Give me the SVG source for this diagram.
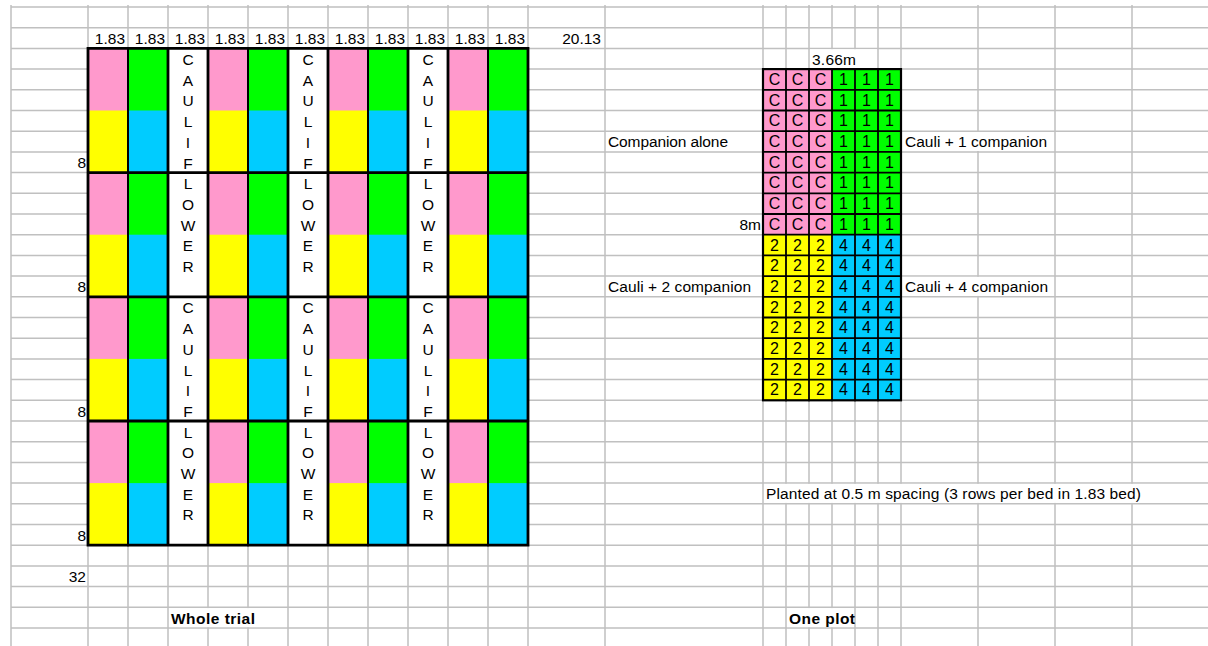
<svg xmlns="http://www.w3.org/2000/svg" width="1208" height="646" viewBox="0 0 1208 646">
<style>
.g{stroke:#c0c0c0;stroke-width:1.5;fill:none}
.t{font-family:"Liberation Sans",Arial,sans-serif;font-size:15.5px;fill:#000}
.p{font-size:16px}
.m{text-anchor:middle}
.e{text-anchor:end}
.b{font-weight:bold}
.pk{fill:#ff99cc}.gr{fill:#00ff00}.ye{fill:#ffff00}.bl{fill:#00ccff}.wh{fill:#fff}
.k{stroke:#000;fill:none;stroke-linecap:square}
</style>
<rect width="1208" height="646" fill="#fff"/>
<g id="gridlines">
<path class="g" d="M11 5V646M88 5V646M128 5V646M168 5V646M208 5V646M248 5V646M288 5V646M328 5V646M368 5V646M408 5V646M448 5V646M488 5V646M528 5V646M605 5V646M763 5V646M786 5V646M809 5V646M832 5V646M855 5V646M878 5V646M901 5V646M978 5V646M1055 5V646M1132 5V646"/>
<path class="g" d="M11 7H1208M11 27.7H1208M11 48.4H1208M11 69.1H1208M11 89.8H1208M11 110.5H1208M11 131.2H1208M11 151.9H1208M11 172.6H1208M11 193.3H1208M11 214H1208M11 234.7H1208M11 255.4H1208M11 276.1H1208M11 296.8H1208M11 317.5H1208M11 338.2H1208M11 358.9H1208M11 379.6H1208M11 400.3H1208M11 421H1208M11 441.7H1208M11 462.4H1208M11 483.1H1208M11 503.8H1208M11 524.5H1208M11 545.2H1208M11 565.9H1208M11 586.6H1208M11 607.3H1208M11 628H1208"/>
<g class="wh">
<rect x="810" y="49.2" width="67" height="19"/>
<rect x="902" y="132" width="152" height="19"/>
<rect x="902" y="276.9" width="152" height="19"/>
<rect x="764" y="483.9" width="444" height="19"/>
<rect x="169" y="608.1" width="118" height="19"/>
<rect x="787" y="608.1" width="67" height="19"/>
</g>
</g>
<g id="whole-trial">
<g class="ye">
<rect x="88" y="48.4" width="40" height="496.8"/><rect x="208" y="48.4" width="40" height="496.8"/><rect x="328" y="48.4" width="40" height="496.8"/><rect x="448" y="48.4" width="40" height="496.8"/>
</g>
<g class="bl">
<rect x="128" y="48.4" width="40" height="496.8"/><rect x="248" y="48.4" width="40" height="496.8"/><rect x="368" y="48.4" width="40" height="496.8"/><rect x="488" y="48.4" width="40" height="496.8"/>
</g>
<g class="wh">
<rect x="168" y="48.4" width="40" height="496.8"/><rect x="288" y="48.4" width="40" height="496.8"/><rect x="408" y="48.4" width="40" height="496.8"/>
</g>
<g class="pk">
<rect x="88" y="48.4" width="40" height="62.1"/><rect x="88" y="172.6" width="40" height="62.1"/><rect x="88" y="296.8" width="40" height="62.1"/><rect x="88" y="421" width="40" height="62.1"/>
<rect x="208" y="48.4" width="40" height="62.1"/><rect x="208" y="172.6" width="40" height="62.1"/><rect x="208" y="296.8" width="40" height="62.1"/><rect x="208" y="421" width="40" height="62.1"/>
<rect x="328" y="48.4" width="40" height="62.1"/><rect x="328" y="172.6" width="40" height="62.1"/><rect x="328" y="296.8" width="40" height="62.1"/><rect x="328" y="421" width="40" height="62.1"/>
<rect x="448" y="48.4" width="40" height="62.1"/><rect x="448" y="172.6" width="40" height="62.1"/><rect x="448" y="296.8" width="40" height="62.1"/><rect x="448" y="421" width="40" height="62.1"/>
</g>
<g class="gr">
<rect x="128" y="48.4" width="40" height="62.1"/><rect x="128" y="172.6" width="40" height="62.1"/><rect x="128" y="296.8" width="40" height="62.1"/><rect x="128" y="421" width="40" height="62.1"/>
<rect x="248" y="48.4" width="40" height="62.1"/><rect x="248" y="172.6" width="40" height="62.1"/><rect x="248" y="296.8" width="40" height="62.1"/><rect x="248" y="421" width="40" height="62.1"/>
<rect x="368" y="48.4" width="40" height="62.1"/><rect x="368" y="172.6" width="40" height="62.1"/><rect x="368" y="296.8" width="40" height="62.1"/><rect x="368" y="421" width="40" height="62.1"/>
<rect x="488" y="48.4" width="40" height="62.1"/><rect x="488" y="172.6" width="40" height="62.1"/><rect x="488" y="296.8" width="40" height="62.1"/><rect x="488" y="421" width="40" height="62.1"/>
</g>
<path class="k" stroke-width="2" d="M128 48.4V545.2M248 48.4V545.2M368 48.4V545.2M488 48.4V545.2"/>
<path class="k" stroke-width="2.8" d="M88 48.4V545.2M168 48.4V545.2M208 48.4V545.2M288 48.4V545.2M328 48.4V545.2M408 48.4V545.2M448 48.4V545.2M528 48.4V545.2M88 48.4H528M88 172.6H528M88 296.8H528M88 421H528M88 545.2H528"/>
<g class="t m">
<text x="188" y="65">C</text><text x="188" y="85.7">A</text><text x="188" y="106.4">U</text><text x="188" y="127.1">L</text><text x="188" y="147.8">I</text><text x="188" y="168.5">F</text>
<text x="188" y="189.2">L</text><text x="188" y="209.9">O</text><text x="188" y="230.6">W</text><text x="188" y="251.3">E</text><text x="188" y="272">R</text>
<text x="188" y="313.4">C</text><text x="188" y="334.1">A</text><text x="188" y="354.8">U</text><text x="188" y="375.5">L</text><text x="188" y="396.2">I</text><text x="188" y="416.9">F</text>
<text x="188" y="437.6">L</text><text x="188" y="458.3">O</text><text x="188" y="479">W</text><text x="188" y="499.7">E</text><text x="188" y="520.4">R</text>
<text x="308" y="65">C</text><text x="308" y="85.7">A</text><text x="308" y="106.4">U</text><text x="308" y="127.1">L</text><text x="308" y="147.8">I</text><text x="308" y="168.5">F</text>
<text x="308" y="189.2">L</text><text x="308" y="209.9">O</text><text x="308" y="230.6">W</text><text x="308" y="251.3">E</text><text x="308" y="272">R</text>
<text x="308" y="313.4">C</text><text x="308" y="334.1">A</text><text x="308" y="354.8">U</text><text x="308" y="375.5">L</text><text x="308" y="396.2">I</text><text x="308" y="416.9">F</text>
<text x="308" y="437.6">L</text><text x="308" y="458.3">O</text><text x="308" y="479">W</text><text x="308" y="499.7">E</text><text x="308" y="520.4">R</text>
<text x="428" y="65">C</text><text x="428" y="85.7">A</text><text x="428" y="106.4">U</text><text x="428" y="127.1">L</text><text x="428" y="147.8">I</text><text x="428" y="168.5">F</text>
<text x="428" y="189.2">L</text><text x="428" y="209.9">O</text><text x="428" y="230.6">W</text><text x="428" y="251.3">E</text><text x="428" y="272">R</text>
<text x="428" y="313.4">C</text><text x="428" y="334.1">A</text><text x="428" y="354.8">U</text><text x="428" y="375.5">L</text><text x="428" y="396.2">I</text><text x="428" y="416.9">F</text>
<text x="428" y="437.6">L</text><text x="428" y="458.3">O</text><text x="428" y="479">W</text><text x="428" y="499.7">E</text><text x="428" y="520.4">R</text>
</g>
<g class="t e">
<text x="125" y="44">1.83</text><text x="165" y="44">1.83</text><text x="205" y="44">1.83</text><text x="245" y="44">1.83</text><text x="285" y="44">1.83</text><text x="325" y="44">1.83</text><text x="365" y="44">1.83</text><text x="405" y="44">1.83</text><text x="445" y="44">1.83</text><text x="485" y="44">1.83</text><text x="525" y="44">1.83</text>
<text x="601" y="44">20.13</text>
<text x="86" y="168.1">8</text><text x="86" y="292.3">8</text><text x="86" y="416.5">8</text><text x="86" y="540.7">8</text>
<text x="86" y="582.1">32</text>
</g>
<text class="t b" x="171" y="623.5" textLength="84">Whole trial</text>
</g>
<g id="one-plot">
<rect class="pk" x="763" y="69.1" width="69" height="165.6"/>
<rect class="gr" x="832" y="69.1" width="69" height="165.6"/>
<rect class="ye" x="763" y="234.7" width="69" height="165.6"/>
<rect class="bl" x="832" y="234.7" width="69" height="165.6"/>
<path class="k" stroke-width="1.8" d="M786 69.1V400.3M809 69.1V400.3M832 69.1V400.3M855 69.1V400.3M878 69.1V400.3M763 89.8H901M763 110.5H901M763 131.2H901M763 151.9H901M763 172.6H901M763 193.3H901M763 214H901M763 234.7H901M763 255.4H901M763 276.1H901M763 296.8H901M763 317.5H901M763 338.2H901M763 358.9H901M763 379.6H901"/>
<rect class="k" stroke-width="2.2" x="763" y="69.1" width="138" height="331.2"/>
<g class="t p m">
<text x="774.5" y="84.9">C</text><text x="797.5" y="84.9">C</text><text x="820.5" y="84.9">C</text><text x="843.5" y="84.9">1</text><text x="866.5" y="84.9">1</text><text x="889.5" y="84.9">1</text>
<text x="774.5" y="105.6">C</text><text x="797.5" y="105.6">C</text><text x="820.5" y="105.6">C</text><text x="843.5" y="105.6">1</text><text x="866.5" y="105.6">1</text><text x="889.5" y="105.6">1</text>
<text x="774.5" y="126.3">C</text><text x="797.5" y="126.3">C</text><text x="820.5" y="126.3">C</text><text x="843.5" y="126.3">1</text><text x="866.5" y="126.3">1</text><text x="889.5" y="126.3">1</text>
<text x="774.5" y="147">C</text><text x="797.5" y="147">C</text><text x="820.5" y="147">C</text><text x="843.5" y="147">1</text><text x="866.5" y="147">1</text><text x="889.5" y="147">1</text>
<text x="774.5" y="167.7">C</text><text x="797.5" y="167.7">C</text><text x="820.5" y="167.7">C</text><text x="843.5" y="167.7">1</text><text x="866.5" y="167.7">1</text><text x="889.5" y="167.7">1</text>
<text x="774.5" y="188.4">C</text><text x="797.5" y="188.4">C</text><text x="820.5" y="188.4">C</text><text x="843.5" y="188.4">1</text><text x="866.5" y="188.4">1</text><text x="889.5" y="188.4">1</text>
<text x="774.5" y="209.1">C</text><text x="797.5" y="209.1">C</text><text x="820.5" y="209.1">C</text><text x="843.5" y="209.1">1</text><text x="866.5" y="209.1">1</text><text x="889.5" y="209.1">1</text>
<text x="774.5" y="229.8">C</text><text x="797.5" y="229.8">C</text><text x="820.5" y="229.8">C</text><text x="843.5" y="229.8">1</text><text x="866.5" y="229.8">1</text><text x="889.5" y="229.8">1</text>
<text x="774.5" y="250.5">2</text><text x="797.5" y="250.5">2</text><text x="820.5" y="250.5">2</text><text x="843.5" y="250.5">4</text><text x="866.5" y="250.5">4</text><text x="889.5" y="250.5">4</text>
<text x="774.5" y="271.2">2</text><text x="797.5" y="271.2">2</text><text x="820.5" y="271.2">2</text><text x="843.5" y="271.2">4</text><text x="866.5" y="271.2">4</text><text x="889.5" y="271.2">4</text>
<text x="774.5" y="291.9">2</text><text x="797.5" y="291.9">2</text><text x="820.5" y="291.9">2</text><text x="843.5" y="291.9">4</text><text x="866.5" y="291.9">4</text><text x="889.5" y="291.9">4</text>
<text x="774.5" y="312.6">2</text><text x="797.5" y="312.6">2</text><text x="820.5" y="312.6">2</text><text x="843.5" y="312.6">4</text><text x="866.5" y="312.6">4</text><text x="889.5" y="312.6">4</text>
<text x="774.5" y="333.3">2</text><text x="797.5" y="333.3">2</text><text x="820.5" y="333.3">2</text><text x="843.5" y="333.3">4</text><text x="866.5" y="333.3">4</text><text x="889.5" y="333.3">4</text>
<text x="774.5" y="354">2</text><text x="797.5" y="354">2</text><text x="820.5" y="354">2</text><text x="843.5" y="354">4</text><text x="866.5" y="354">4</text><text x="889.5" y="354">4</text>
<text x="774.5" y="374.7">2</text><text x="797.5" y="374.7">2</text><text x="820.5" y="374.7">2</text><text x="843.5" y="374.7">4</text><text x="866.5" y="374.7">4</text><text x="889.5" y="374.7">4</text>
<text x="774.5" y="395.4">2</text><text x="797.5" y="395.4">2</text><text x="820.5" y="395.4">2</text><text x="843.5" y="395.4">4</text><text x="866.5" y="395.4">4</text><text x="889.5" y="395.4">4</text>
</g>
<text class="t" x="812" y="64.6" textLength="44">3.66m</text>
<text class="t" x="608" y="147.4" textLength="120">Companion alone</text>
<text class="t" x="905" y="147.4" textLength="142">Cauli + 1 companion</text>
<text class="t e" x="761" y="230.2">8m</text>
<text class="t" x="608" y="292.3" textLength="143">Cauli + 2 companion</text>
<text class="t" x="905" y="292.3" textLength="143">Cauli + 4 companion</text>
<text class="t" x="766" y="499.3" textLength="375">Planted at 0.5 m spacing (3 rows per bed in 1.83 bed)</text>
<text class="t b" x="789" y="623.5" textLength="66">One plot</text>
</g>
</svg>
